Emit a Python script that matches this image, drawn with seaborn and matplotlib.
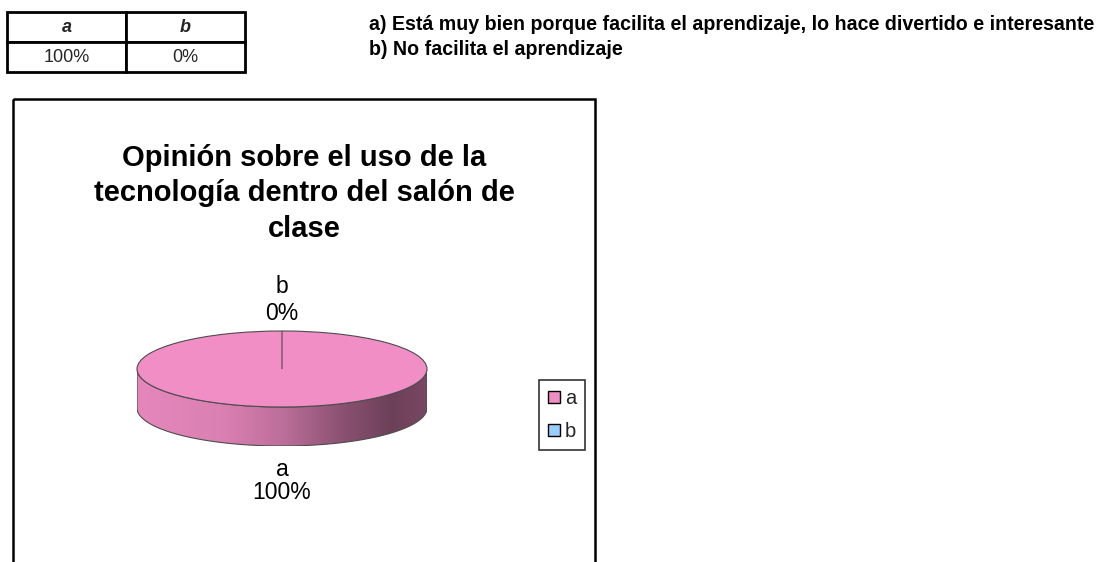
import numpy as np
import matplotlib
matplotlib.use('Agg')
import matplotlib.pyplot as plt
import matplotlib.transforms as mtransforms
from matplotlib.patches import Rectangle, Polygon, Patch
from matplotlib.colors import LinearSegmentedColormap, to_rgb
import seaborn as sns

# ---------------- data ----------------
categories = ['a', 'b']
percentages = [100, 0]
table_header = ['a', 'b']
table_values = ['100%', '0%']
title_lines = ['Opinión sobre el uso de la',
               'tecnología dentro del salón de',
               'clase']
answer_notes = ['a) Está muy bien porque facilita el aprendizaje, lo hace divertido e interesante',
                'b) No facilita el aprendizaje']
slice_colors = ['#F28EC6', '#99CCFF']

# ---------------- style ----------------
sns.set_theme(style='white')
plt.rcParams['font.family'] = ['Liberation Sans', 'DejaVu Sans']
palette = sns.color_palette(slice_colors)

W, H = 1101, 562
fig = plt.figure(figsize=(W / 100, H / 100), dpi=100)
fig.patch.set_facecolor('white')
# pixel coordinates, origin top-left, y downwards
PX = mtransforms.Affine2D().scale(1 / 100, -1 / 100).translate(0, H / 100) + fig.dpi_scale_trans


def box(x0, y0, x1, y1):
    return [x0 / W, 1 - y1 / H, (x1 - x0) / W, (y1 - y0) / H]


# ---------------- summary table ----------------
tax = fig.add_axes(box(7, 12, 245, 72))
tax.axis('off')
tbl = tax.table(cellText=[table_values], colLabels=table_header,
                cellLoc='center', bbox=[0, 0, 1, 1])
tbl.auto_set_font_size(False)
tbl.set_fontsize(13)
for (r, c), cell in tbl.get_celld().items():
    cell.set_linewidth(2.0)
    cell.set_edgecolor('black')
    cell.set_facecolor('white')
    if r == 0:
        cell.get_text().set_fontweight('bold')
        cell.get_text().set_fontstyle('italic')

# ---------------- answer notes ----------------
for line, yb in zip(answer_notes, [30, 55]):
    fig.text(369, yb, line, transform=PX, ha='left', va='baseline',
             fontsize=14.1, fontweight='bold', color='black')

# ---------------- chart frame ----------------
fig.add_artist(Rectangle((12.5, 99), 582.5, 520, transform=PX, fill=False,
                         lw=1.8, ec='black'))

# ---------------- title ----------------
for line, yb in zip(title_lines, [166, 201, 237]):
    fig.text(304, yb, line, transform=PX, ha='center', va='baseline',
             fontsize=21, fontweight='bold', color='black')

# ---------------- 3D-looking pie ----------------
cx, cy, rx, ry, depth = 282, 369, 145, 38, 39
d = depth / ry
pax = fig.add_axes(box(cx - rx, cy - ry, cx + rx, cy + ry + depth))
wedges, _ = pax.pie(percentages, colors=palette, startangle=90, counterclock=False,
                    wedgeprops=dict(edgecolor='#4d4d4d', linewidth=0.8))
for w in wedges:
    w.set_zorder(3)

shade_pos = [0.0, 0.3, 0.5, 0.7, 0.88, 1.0]
shade_val = [0.95, 0.90, 0.78, 0.58, 0.45, 0.50]


def rim_poly(w):
    t = np.radians(np.linspace(w.theta1, w.theta2, 2881))
    t = t[np.sin(t) < -1e-9]
    if t.size < 2:
        return None
    x = np.cos(t)
    order = np.argsort(x)
    top = np.column_stack([x[order], np.sin(t)[order]])
    bot = top[::-1] - np.array([0, d])
    return np.vstack([top, bot])


grad = np.tile(np.linspace(0, 1, 256), (32, 1))
for w in wedges:
    verts = rim_poly(w)
    if verts is None:
        continue
    base = np.array(to_rgb(w.get_facecolor()))
    cmap = LinearSegmentedColormap.from_list(
        'rim', [(p, tuple(np.clip(base * s, 0, 1))) for p, s in zip(shade_pos, shade_val)])
    poly = Polygon(verts, closed=True, facecolor='none', edgecolor='#4d4d4d',
                   lw=0.8, zorder=2)
    pax.add_patch(poly)
    im = pax.imshow(grad, extent=(-1, 1, -1 - d - 0.1, 0.1),
                    cmap=cmap, aspect='auto', zorder=1.5, interpolation='bilinear')
    im.set_clip_path(poly)

pax.set_aspect('auto')
pax.set_xlim(-1, 1)
pax.set_ylim(-1 - d, 1)
pax.axis('off')

# data labels
for w, cat, pct in zip(wedges, categories, percentages):
    mid = np.radians((w.theta1 + w.theta2) / 2)
    lx = cx
    if np.sin(mid) >= 0:
        y_name, y_pct = cy - ry - 38, cy - ry - 11
    else:
        y_name, y_pct = cy + ry + depth + 30, cy + ry + depth + 53
    fig.text(lx, y_name, cat, transform=PX, ha='center', va='baseline',
             fontsize=16.5, color='black')
    fig.text(lx, y_pct, f'{pct:.0f}%', transform=PX, ha='center', va='baseline',
             fontsize=16.5, color='black')

# legend
handles = [Patch(facecolor=c, edgecolor='black', linewidth=1.0) for c in palette]
leg = fig.legend(handles, categories, loc='upper left',
                 bbox_to_anchor=(539 / W, 1 - 380 / H), bbox_transform=fig.transFigure,
                 frameon=True, fancybox=False, shadow=False, fontsize=14.5,
                 handlelength=0.6, handleheight=0.55, handletextpad=0.25,
                 borderpad=0.45, labelspacing=0.7, borderaxespad=0)
leg.get_frame().set_edgecolor('black')
leg.get_frame().set_linewidth(1.2)
leg.get_frame().set_facecolor('white')

fig.savefig('out.png', dpi=100)
